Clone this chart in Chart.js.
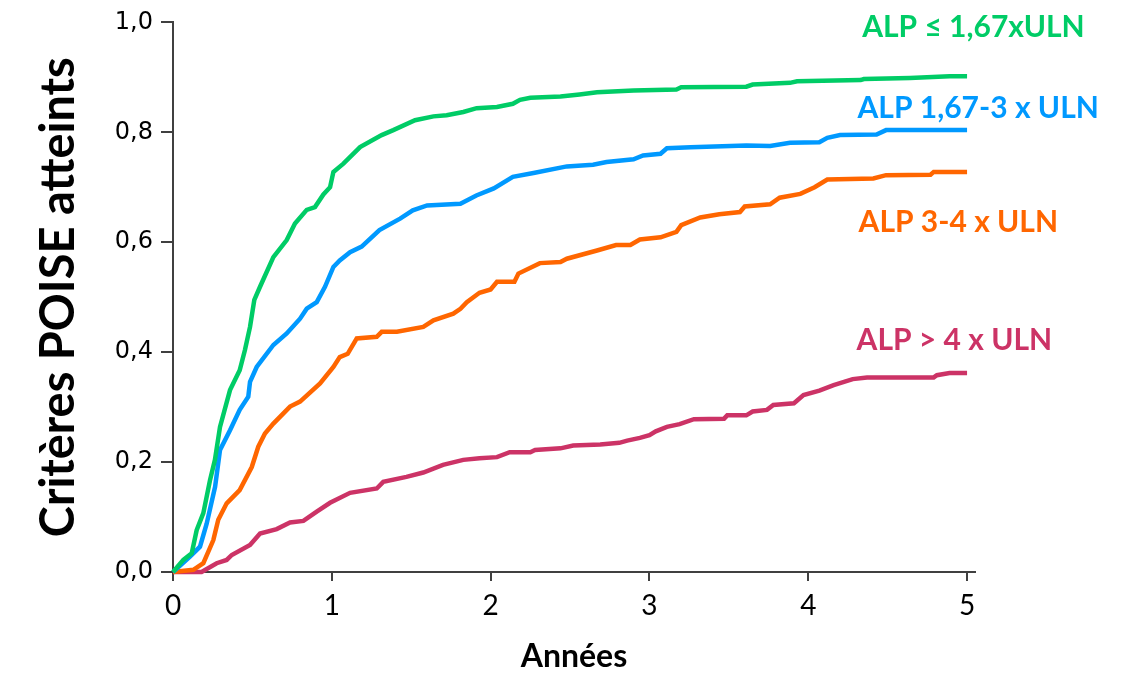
<!DOCTYPE html>
<html>
<head>
<meta charset="utf-8">
<script src="https://cdn.jsdelivr.net/npm/chart.js@4/dist/chart.umd.min.js"></script>
<style>
  body { margin: 0; background: #fff; }
</style>
</head>
<body>
<canvas id="graf" width="1123" height="674"></canvas>
<script>
const xTicks = [0, 1, 2, 3, 4, 5];
const yTicks = [0, 0.2, 0.4, 0.6, 0.8, 1.0];

// [années, proportion]
const alpBas = [[0,0],[0.065,0.022],[0.118,0.034],[0.149,0.076],[0.191,0.107],[0.233,0.167],[0.264,0.204],[0.296,0.264],[0.359,0.331],[0.42,0.367],[0.453,0.404],[0.485,0.446],[0.512,0.495],[0.548,0.519],[0.632,0.573],[0.716,0.604],[0.768,0.634],[0.842,0.659],[0.894,0.664],[0.947,0.687],[0.989,0.70],[1.01,0.728],[1.073,0.743],[1.178,0.773],[1.314,0.795],[1.387,0.804],[1.524,0.822],[1.64,0.829],[1.723,0.831],[1.828,0.837],[1.912,0.844],[2.04,0.846],[2.14,0.852],[2.185,0.859],[2.25,0.863],[2.44,0.865],[2.56,0.869],[2.67,0.873],[2.9,0.876],[3.17,0.878],[3.2,0.882],[3.61,0.883],[3.65,0.887],[3.885,0.89],[3.93,0.893],[4.33,0.895],[4.35,0.897],[4.64,0.899],[4.89,0.902],[5.0,0.902]];
const alpMoyen = [[0,0],[0.107,0.028],[0.17,0.046],[0.212,0.088],[0.265,0.155],[0.296,0.222],[0.359,0.258],[0.42,0.295],[0.474,0.319],[0.485,0.346],[0.527,0.373],[0.632,0.413],[0.716,0.434],[0.80,0.461],[0.842,0.479],[0.905,0.491],[0.957,0.519],[1.01,0.555],[1.05,0.567],[1.115,0.582],[1.188,0.592],[1.30,0.622],[1.43,0.643],[1.51,0.658],[1.60,0.667],[1.81,0.67],[1.91,0.685],[2.02,0.698],[2.14,0.719],[2.27,0.726],[2.48,0.738],[2.645,0.741],[2.73,0.746],[2.9,0.751],[2.96,0.758],[3.07,0.761],[3.11,0.771],[3.26,0.773],[3.61,0.776],[3.76,0.775],[3.885,0.781],[4.07,0.782],[4.12,0.79],[4.2,0.795],[4.43,0.796],[4.49,0.804],[5.0,0.804]];
const alpEleve = [[0,0],[0.128,0.004],[0.191,0.016],[0.254,0.058],[0.285,0.095],[0.338,0.125],[0.42,0.149],[0.496,0.191],[0.537,0.228],[0.579,0.252],[0.632,0.27],[0.737,0.301],[0.80,0.31],[0.926,0.343],[1.01,0.373],[1.05,0.391],[1.10,0.397],[1.157,0.425],[1.283,0.428],[1.314,0.437],[1.41,0.437],[1.576,0.446],[1.64,0.458],[1.765,0.47],[1.81,0.479],[1.85,0.491],[1.93,0.508],[2.0,0.514],[2.04,0.528],[2.15,0.528],[2.175,0.543],[2.31,0.562],[2.44,0.564],[2.48,0.57],[2.67,0.585],[2.79,0.595],[2.88,0.595],[2.94,0.605],[3.07,0.609],[3.17,0.619],[3.2,0.631],[3.32,0.645],[3.44,0.651],[3.57,0.655],[3.60,0.665],[3.76,0.669],[3.82,0.681],[3.95,0.688],[4.04,0.70],[4.12,0.714],[4.41,0.716],[4.49,0.722],[4.77,0.723],[4.79,0.728],[5.0,0.728]];
const alpTresEleve = [[0,0],[0.18,0],[0.275,0.016],[0.338,0.022],[0.37,0.031],[0.485,0.049],[0.548,0.07],[0.653,0.078],[0.737,0.09],[0.821,0.093],[0.905,0.11],[0.989,0.126],[1.115,0.144],[1.283,0.152],[1.324,0.164],[1.47,0.173],[1.576,0.181],[1.70,0.195],[1.828,0.204],[1.93,0.207],[2.04,0.209],[2.12,0.218],[2.25,0.218],[2.28,0.222],[2.44,0.225],[2.52,0.23],[2.69,0.232],[2.81,0.235],[2.86,0.239],[2.94,0.244],[3.0,0.249],[3.04,0.256],[3.11,0.264],[3.19,0.269],[3.28,0.278],[3.47,0.279],[3.49,0.285],[3.61,0.285],[3.65,0.292],[3.74,0.295],[3.78,0.304],[3.91,0.307],[3.97,0.322],[4.07,0.33],[4.16,0.34],[4.28,0.351],[4.37,0.354],[4.79,0.354],[4.81,0.358],[4.89,0.362],[5.0,0.362]];

const series = ['ALP ≤ 1,67xULN', 'ALP 1,67-3 x ULN', 'ALP 3-4 x ULN', 'ALP > 4 x ULN'];
const colors = ['rgb(0, 204, 102)', 'rgb(0, 153, 255)', 'rgb(255, 102, 0)', 'rgb(204, 51, 102)'];
// position des étiquettes (centre, en unités des axes)
const labelPos = [[5.04, 0.991], [5.07, 0.844], [4.945, 0.636], [4.92, 0.422]];

const allData = [alpBas, alpMoyen, alpEleve, alpTresEleve];

const etiquettes = {
  id: 'etiquettes',
  afterDraw(chart) {
    const ctx = chart.ctx;
    const x = chart.scales.x, y = chart.scales.y;
    ctx.save();
    ctx.font = 'bold 30px Lato';
    ctx.textAlign = 'center';
    ctx.textBaseline = 'middle';
    series.forEach((s, i) => {
      ctx.fillStyle = colors[i];
      ctx.fillText(s, x.getPixelForValue(labelPos[i][0]), y.getPixelForValue(labelPos[i][1]));
    });
    ctx.restore();
  }
};

let graf = new Chart(
  document.getElementById('graf'),
  {
    type: 'line',
    plugins: [etiquettes],
    data: {
      datasets: allData.map((d, i) => ({
        label: series[i],
        data: d.map(p => ({ x: p[0], y: p[1] })),
        borderColor: colors[i],
        borderWidth: 4.5,
        pointRadius: 0,
        tension: 0,
        fill: false,
        clip: false
      }))
    },
    options: {
      responsive: false,
      animation: false,
      layout: {
        padding: { top: 22, right: 148, left: 0, bottom: 0 }
      },
      plugins: {
        legend: { display: false },
        tooltip: { enabled: false }
      },
      scales: {
        x: {
          type: 'linear',
          min: 0,
          max: 5.05,
          afterBuildTicks: s => { s.ticks = xTicks.map(v => ({ value: v })); },
          afterFit: s => { s.height = 102; },
          grid: { drawOnChartArea: false, color: '#404040', lineWidth: 2, tickLength: 9 },
          border: { color: '#404040', width: 2 },
          ticks: { color: '#000', font: { family: 'Lato', size: 28 }, padding: 8 },
          title: {
            display: true,
            text: 'Années',
            color: '#000',
            font: { family: 'Lato', size: 32, weight: 'bold', lineHeight: 1 },
            padding: { top: 0, bottom: 1 }
          }
        },
        y: {
          min: 0,
          max: 1,
          afterBuildTicks: s => { s.ticks = yTicks.map(v => ({ value: v })); },
          afterFit: s => { s.width = 173; },
          grid: { drawOnChartArea: false, color: '#404040', lineWidth: 2, tickLength: 12 },
          border: { color: '#404040', width: 2 },
          ticks: {
            color: '#000',
            font: { family: 'DejaVu Sans', size: 24 },
            padding: 8,
            callback: v => v.toFixed(1).replace('.', ',')
          },
          title: {
            display: true,
            text: 'Critères POISE atteints',
            color: '#000',
            font: { family: 'Lato', size: 47, weight: 'bold', lineHeight: 1.2 },
            padding: { top: 31, bottom: 0 }
          }
        }
      }
    }
  }
);
</script>
</body>
</html>
